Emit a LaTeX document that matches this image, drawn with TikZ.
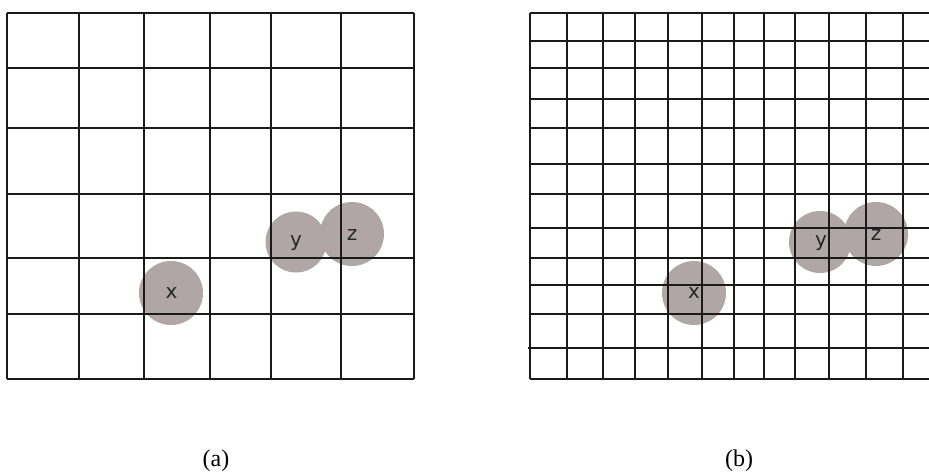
\documentclass[tikz,border=0pt]{standalone}
\usepackage{fontspec}
\setmainfont{Liberation Serif}
\newfontfamily\lblfont{DejaVu Sans}
\definecolor{ballc}{HTML}{B0A6A6}
\definecolor{gridc}{HTML}{1A1A1A}
\begin{document}
\begin{tikzpicture}[x=1pt,y=-1pt,
  gridline/.style={draw=gridc,line width=1.3pt},
  ball/.style={circle,fill=ballc,inner sep=0pt,minimum size=#1},
  balltext/.style={font=\lblfont\fontsize{20}{20}\selectfont,text=black!85,inner sep=0pt},
  caption/.style={font=\fontsize{24}{24}\selectfont,inner sep=0pt}]
\useasboundingbox (0,0) rectangle (929,473);
% panel (a) balls
\node[ball=64pt] (ax) at (171,293) {};
\node[ball=61pt] (ay) at (296,242) {};
\node[ball=64pt] (az) at (352,234) {};
% panel (b) balls
\node[ball=64pt] (bx) at (694,293) {};
\node[ball=62pt] (by) at (820,242) {};
\node[ball=64pt] (bz) at (876,234) {};
% grid (a)
\foreach \x in {7,79,144,210,271,341,414} \draw[gridline] (\x,13) -- (\x,379);
\foreach \y in {13,68,128,194,258,314,379} \draw[gridline] (7,\y) -- (414,\y);
% grid (b)
\foreach \x in {530,567,603,635,668,702,734,764,795,829,866,903} \draw[gridline] (\x,13) -- (\x,379);
\foreach \y in {13,41,68,99,128,164,194,228,258,285,314,379} \draw[gridline] (530,\y) -- (929,\y);
\draw[gridline] (528,348) -- (929,348);
% labels
\node[balltext] (lx) at (171.5,293) {x};
\node[balltext] (ly) at (296,243) {y};
\node[balltext] (lz) at (352,235) {z};
\node[balltext] (mx) at (694,293) {x};
\node[balltext] (my) at (821,243) {y};
\node[balltext] (mz) at (876,235) {z};
\node[caption] (ca) at (216,461) {(a)};
\node[caption] (cb) at (739,461) {(b)};
\end{tikzpicture}
\end{document}
